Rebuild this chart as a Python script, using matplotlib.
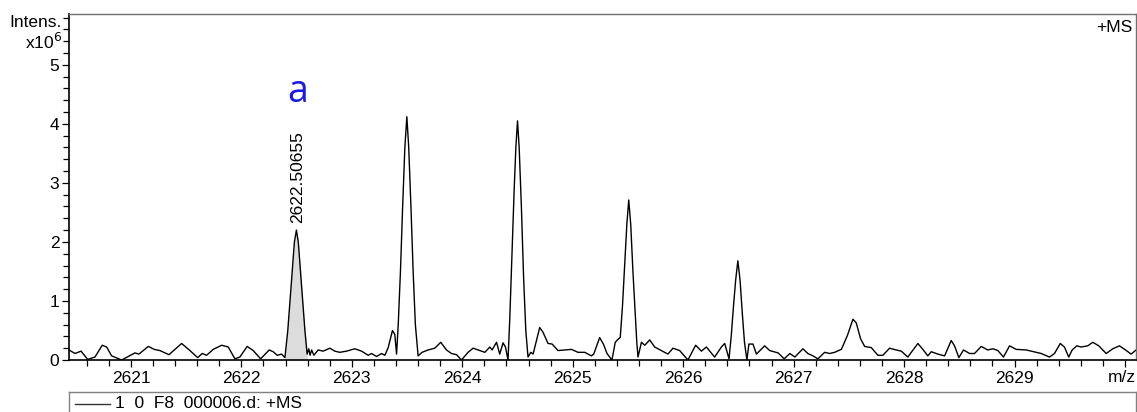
import matplotlib
matplotlib.use("Agg")
import matplotlib.pyplot as plt
import numpy as np
from matplotlib.ticker import MultipleLocator, FuncFormatter
from matplotlib.transforms import blended_transform_factory, offset_copy

plt.rcParams['font.family'] = ['Liberation Sans', 'DejaVu Sans']

# profile spectrum (intensity in 1e6 counts)
mz = [2620.439, 2620.493, 2620.548, 2620.608, 2620.674, 2620.740, 2620.780, 2620.825, 2620.916, 2620.976,
      2621.036, 2621.072, 2621.157, 2621.211, 2621.262, 2621.344, 2621.459, 2621.534, 2621.604, 2621.645,
      2621.685, 2621.745, 2621.821, 2621.881, 2621.941, 2621.986, 2622.052, 2622.107, 2622.174, 2622.252,
      2622.288, 2622.324, 2622.364, 2622.394,
      2622.420, 2622.440, 2622.460, 2622.480, 2622.498, 2622.515, 2622.535, 2622.555, 2622.575, 2622.595,
      2622.610, 2622.622, 2622.636, 2622.656, 2622.695, 2622.740, 2622.801, 2622.846, 2622.891, 2622.952,
      2623.027, 2623.088, 2623.148, 2623.178, 2623.224, 2623.269, 2623.299, 2623.329, 2623.368, 2623.389,
      2623.405,
      2623.420, 2623.440, 2623.460, 2623.480, 2623.498, 2623.515, 2623.535, 2623.555, 2623.575, 2623.600,
      2623.636, 2623.690, 2623.751, 2623.805, 2623.857, 2623.902, 2623.948, 2623.993, 2624.052, 2624.098,
      2624.158, 2624.204, 2624.249, 2624.270, 2624.310, 2624.339, 2624.369, 2624.391, 2624.414,
      2624.430, 2624.450, 2624.470, 2624.485, 2624.500, 2624.515, 2624.535, 2624.555, 2624.575, 2624.595,
      2624.620, 2624.641, 2624.701, 2624.731, 2624.776, 2624.813, 2624.867, 2624.928, 2624.988, 2625.048,
      2625.109, 2625.169, 2625.190, 2625.244, 2625.280, 2625.310, 2625.355, 2625.385, 2625.415, 2625.430,
      2625.450, 2625.470, 2625.490, 2625.507, 2625.525, 2625.545, 2625.565, 2625.580, 2625.591,
      2625.622, 2625.652, 2625.697, 2625.742, 2625.803, 2625.862, 2625.908, 2625.968, 2626.043, 2626.113,
      2626.165, 2626.210, 2626.285, 2626.346, 2626.376, 2626.415,
      2626.435, 2626.455, 2626.475, 2626.495, 2626.515, 2626.535, 2626.555, 2626.577,
      2626.595, 2626.632, 2626.663, 2626.738, 2626.783, 2626.860, 2626.914, 2626.966, 2627.011, 2627.084,
      2627.129, 2627.175, 2627.220, 2627.281, 2627.326, 2627.371, 2627.432, 2627.486, 2627.537, 2627.567,
      2627.606, 2627.643, 2627.703, 2627.763, 2627.808, 2627.869, 2627.929, 2627.975, 2628.034, 2628.125,
      2628.170, 2628.215, 2628.246, 2628.306, 2628.367, 2628.427, 2628.457, 2628.496, 2628.538, 2628.593,
      2628.638, 2628.699, 2628.758, 2628.804, 2628.849, 2628.900, 2628.955, 2629.015, 2629.106, 2629.196,
      2629.242, 2629.317, 2629.362, 2629.414, 2629.452, 2629.491, 2629.522, 2629.564, 2629.603, 2629.663,
      2629.709, 2629.763, 2629.830, 2629.890, 2629.950, 2630.005, 2630.056, 2630.101]
intens = [0.17, 0.11, 0.15, 0.01, 0.05, 0.25, 0.22, 0.07, 0.00, 0.06,
          0.12, 0.10, 0.23, 0.18, 0.16, 0.09, 0.28, 0.16, 0.04, 0.11,
          0.08, 0.18, 0.25, 0.22, 0.02, 0.05, 0.23, 0.16, 0.02, 0.17,
          0.14, 0.08, 0.10, 0.04,
          0.50, 1.00, 1.50, 2.00, 2.20, 2.00, 1.50, 1.00, 0.50, 0.10,
          0.19, 0.08, 0.17, 0.08, 0.17, 0.15, 0.20, 0.15, 0.13, 0.15,
          0.19, 0.15, 0.08, 0.11, 0.06, 0.11, 0.08, 0.21, 0.50, 0.43,
          0.10,
          0.60, 1.50, 2.60, 3.60, 4.12, 3.60, 2.60, 1.50, 0.60, 0.07,
          0.13, 0.17, 0.20, 0.30, 0.17, 0.11, 0.09, 0.00, 0.13, 0.20,
          0.16, 0.13, 0.22, 0.17, 0.30, 0.10, 0.29, 0.22, 0.00,
          0.70, 1.80, 2.90, 3.60, 4.05, 3.60, 2.60, 1.40, 0.50, 0.05,
          0.13, 0.10, 0.55, 0.47, 0.28, 0.27, 0.16, 0.17, 0.18, 0.13,
          0.13, 0.07, 0.10, 0.38, 0.26, 0.11, 0.00, 0.30, 0.36, 0.38,
          0.90, 1.60, 2.30, 2.71, 2.30, 1.50, 0.80, 0.30, 0.05,
          0.30, 0.25, 0.34, 0.22, 0.16, 0.10, 0.20, 0.16, 0.00, 0.25,
          0.15, 0.22, 0.05, 0.22, 0.28, 0.02,
          0.40, 0.90, 1.35, 1.68, 1.35, 0.80, 0.30, 0.00,
          0.27, 0.27, 0.10, 0.24, 0.16, 0.12, 0.02, 0.11, 0.05, 0.19,
          0.11, 0.07, 0.02, 0.13, 0.11, 0.13, 0.18, 0.41, 0.69, 0.63,
          0.36, 0.23, 0.21, 0.08, 0.08, 0.20, 0.17, 0.15, 0.05, 0.28,
          0.18, 0.07, 0.14, 0.10, 0.07, 0.33, 0.24, 0.04, 0.17, 0.11,
          0.11, 0.23, 0.17, 0.19, 0.16, 0.05, 0.24, 0.18, 0.17, 0.13,
          0.11, 0.05, 0.11, 0.28, 0.22, 0.05, 0.17, 0.24, 0.22, 0.24,
          0.30, 0.24, 0.11, 0.19, 0.24, 0.17, 0.10, 0.17]

label_mz = 2622.50655
label_peak = 2.20
fill_range = (2622.394, 2622.595)
last_labelled = 2629
legend_text = "1  0  F8  000006.d: +MS"

W, H = 1137, 412
fig = plt.figure(figsize=(W / 100, H / 100), dpi=100)
ax = fig.add_axes([69 / W, 52 / H, (1136 - 69) / W, (360 - 14) / H])

x = np.array(mz)
y = np.array(intens)
mask = (x >= fill_range[0]) & (x <= fill_range[1])
ax.fill_between(x, 0, y, where=mask, color='#dcdcdc', lw=0)
ax.plot(x, y, color='black', lw=1.0)

ax.set_xlim(2620.439, 2630.10)
ax.set_ylim(0, 5.86)
ax.xaxis.set_major_locator(MultipleLocator(1))
ax.xaxis.set_minor_locator(MultipleLocator(0.2))
ax.xaxis.set_major_formatter(FuncFormatter(lambda v, p: f"{v:.0f}" if v <= last_labelled + 0.01 else ""))
ax.yaxis.set_major_locator(MultipleLocator(1))
ax.yaxis.set_minor_locator(MultipleLocator(0.2))
ax.tick_params(axis='both', which='both', direction='out', labelsize=12.5, width=0.9, color='black')
ax.tick_params(which='major', length=5)
ax.tick_params(which='minor', length=4)
ax.tick_params(axis='y', pad=2)
ax.tick_params(axis='x', pad=3)

for s in ['left', 'bottom']:
    ax.spines[s].set_color('black')
    ax.spines[s].set_linewidth(1.2)
for s in ['top', 'right']:
    ax.spines[s].set_color('#707070')
    ax.spines[s].set_linewidth(1.0)

tr = blended_transform_factory(ax.transAxes, ax.transData)
tr = offset_copy(tr, fig=fig, x=-7, y=0, units='dots')
ax.text(0, 5.72, "Intens.", transform=tr, ha='right', va='center', fontsize=12.5)
ax.text(0, 5.38, r"x10$^{6}$", transform=tr, ha='right', va='center', fontsize=12.5)
ax.text(0.997, 0.962, "+MS", transform=ax.transAxes, ha='right', va='center', fontsize=12.5)
ax.text(1.0, -0.052, "m/z", transform=ax.transAxes, ha='right', va='center', fontsize=12.5)

ax.annotate(f"{label_mz:.5f}", xy=(label_mz, label_peak), xytext=(0, 5),
            textcoords='offset points', rotation=90, ha='center', va='bottom', fontsize=12.5)
ax.annotate("a", xy=(label_mz, label_peak), xytext=(0, 92),
            textcoords='offset points', ha='center', va='baseline', fontsize=27,
            color='#1a1ae6', family=['Open Sans', 'DejaVu Sans'])

# legend box below the plot (runs off the bottom of the image)
lax = fig.add_axes([69 / W, -0.1, (1136 - 69) / W, 0.1 + (412 - 392) / H])
lax.set_xticks([])
lax.set_yticks([])
lax.set_xlim(0, 1)
lax.set_ylim(0, 1)
for s in lax.spines.values():
    s.set_color('#808080')
    s.set_linewidth(1.0)
ly = (0.1 + (412 - 404) / H) / (0.1 + (412 - 392) / H)
lax.plot([6 / 1067, 41 / 1067], [ly, ly], color='#333333', lw=1)
lax.text(46 / 1067, ly, legend_text, ha='left', va='center', fontsize=12.5)

fig.savefig("out.png", dpi=100)
